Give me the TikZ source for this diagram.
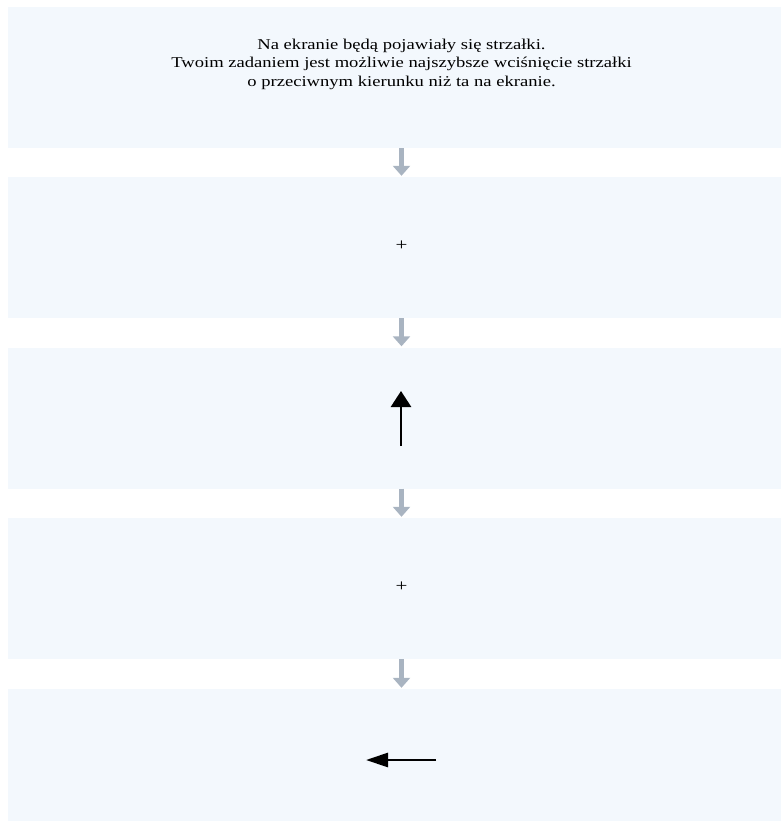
\documentclass[tikz,border=0pt]{standalone}
\usepackage{fontspec}
\setmainfont{Liberation Serif}
\usetikzlibrary{positioning,arrows.meta}

\definecolor{panelbg}{HTML}{F3F8FD}
\definecolor{flowgray}{HTML}{A9B4C1}

\begin{document}
\begin{tikzpicture}[x=1pt,y=-1pt,>=Latex,
    panel/.style={fill=panelbg,draw=none,minimum width=773pt,minimum height=141pt,inner sep=0pt},
    wide/.style={xscale=1.24,transform shape},
    flow/.style={draw=flowgray,line width=4.5pt,-{Triangle[width=17pt,length=10pt]},shorten >=1pt},
    stim/.style={draw=black,line width=2.8pt,-{Triangle[width=20pt,length=16pt]}}]
  \useasboundingbox (0,0) rectangle (782,822);
  % screens
  \node[panel] (p1) at (394.5,77.5) {};
  \node[panel] (p2) at (394.5,247.5) {};
  \node[panel] (p3) at (394.5,418) {};
  \node[panel] (p4) at (394.5,588.5) {};
  \node[panel,minimum height=132pt] (p5) at (394.5,755) {};
  % contents
  \node[wide,align=center,font=\fontsize{15}{18.5}\selectfont] (msg) at (401.5,64)
    {Na ekranie będą pojawiały się strzałki.\\
     Twoim zadaniem jest możliwie najszybsze wciśnięcie strzałki\\
     o przeciwnym kierunku niż ta na ekranie.};
  \node[wide,font=\fontsize{17}{17}\selectfont] (fix1) at (401.5,246) {+};
  \node[wide,font=\fontsize{17}{17}\selectfont] (fix2) at (401.5,586.5) {+};
  \coordinate (upA) at (401,446);
  \coordinate (upB) at (401,391);
  \draw[stim] (upA) -- (upB);
  \coordinate (leftA) at (436,760);
  \coordinate (leftB) at (366,760);
  \draw[stim,-{Triangle[width=14pt,length=22pt]}] (leftA) -- (leftB);
  % order of screens
  \draw[flow] (p1.south -| msg) -- (p2.north -| msg);
  \draw[flow] (p2.south -| msg) -- (p3.north -| msg);
  \draw[flow] (p3.south -| msg) -- (p4.north -| msg);
  \draw[flow] (p4.south -| msg) -- (p5.north -| msg);
\end{tikzpicture}
\end{document}
